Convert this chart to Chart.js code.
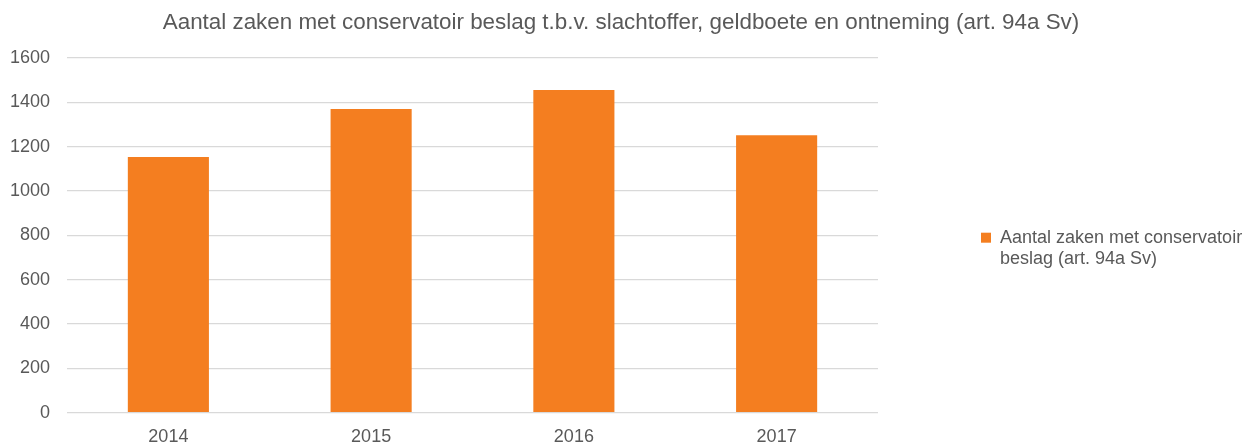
<!DOCTYPE html>
<html>
<head>
<meta charset="utf-8">
<script src="https://cdn.jsdelivr.net/npm/chart.js@4"></script>
<style>
  html, body { margin: 0; padding: 0; background: #fff; }
  #wrap { width: 1247px; height: 444px; position: relative; }
</style>
</head>
<body>
<div id="wrap"><canvas id="myChart"></canvas></div>
<script>
const jaren = ['2014', '2015', '2016', '2017'];
const aantallen = [1153, 1370, 1455, 1251];
const reeksNaam = 'Aantal zaken met conservatoir beslag (art. 94a Sv)';
const legendaRegels = ['Aantal zaken met conservatoir', 'beslag (art. 94a Sv)'];
const titel = 'Aantal zaken met conservatoir beslag t.b.v. slachtoffer, geldboete en ontneming (art. 94a Sv)';

const grijs = '#595959';
const oranje = '#F47E20';
const lettertype = "'Liberation Sans', Arial, sans-serif";

// de legenda mag breder zijn dan Chart.js standaard toestaat
const legendaBreedte = {
  id: 'legendaBreedte',
  beforeLayout(chart) {
    const legend = chart.legend;
    if (legend && !legend._breedGemaakt) {
      const origFit = legend.fit;
      legend.fit = function () {
        origFit.call(this);
        this.width = 369;
      };
      legend._breedGemaakt = true;
    }
  }
};

const data = {
  labels: jaren,
  datasets: [{
    label: reeksNaam,
    data: aantallen,
    backgroundColor: oranje,
    categoryPercentage: 1,
    barPercentage: 0.4
  }]
};

const config = {
  type: 'bar',
  data: data,
  options: {
    responsive: true,
    maintainAspectRatio: false,
    animation: false,
    layout: {
      padding: { left: -5, right: 0, top: 0, bottom: -17 }
    },
    scales: {
      y: {
        min: 0,
        max: 1600,
        afterFit: function (scale) {
          scale.width = 72;
        },
        ticks: {
          stepSize: 200,
          color: grijs,
          padding: 17,
          font: { family: lettertype, size: 18 },
          callback: function (value) {
            return value; // geen duizendtal-scheiding
          }
        },
        grid: {
          color: '#d9d9d9',
          lineWidth: 1.2,
          drawTicks: false
        },
        border: { display: false }
      },
      x: {
        ticks: {
          color: grijs,
          padding: 17,
          font: { family: lettertype, size: 18, lineHeight: 0.8 }
        },
        grid: { display: false, drawTicks: false },
        border: { display: false }
      }
    },
    plugins: {
      title: {
        display: true,
        text: titel,
        color: grijs,
        font: { family: lettertype, size: 22.4, weight: 'normal' },
        padding: { top: 9, bottom: 22.1 }
      },
      legend: {
        position: 'right',
        align: 'center',
        title: {
          display: true,
          text: ' ',
          font: { size: 10 },
          padding: 13.8
        },
        labels: {
          color: grijs,
          boxWidth: 10,
          boxHeight: 10,
          padding: 103,
          font: { family: lettertype, size: 18 },
          generateLabels: function (chart) {
            return [{
              text: legendaRegels,
              fillStyle: oranje,
              strokeStyle: oranje,
              lineWidth: 0,
              datasetIndex: 0,
              fontColor: grijs
            }];
          }
        }
      },
      tooltip: { enabled: false }
    }
  },
  plugins: [legendaBreedte]
};

const myChart = new Chart(
  document.getElementById('myChart'),
  config
);
</script>
</body>
</html>
